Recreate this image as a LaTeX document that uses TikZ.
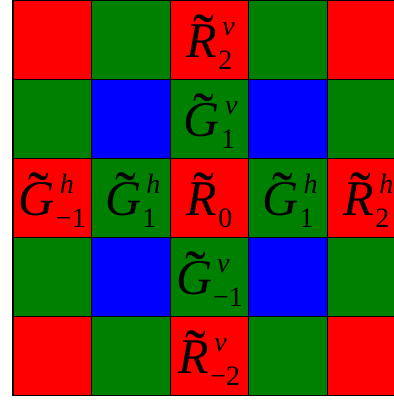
\documentclass[tikz,border=0pt]{standalone}
\usepackage{fontspec}
\setmainfont{Liberation Serif}
\definecolor{cr}{RGB}{255,0,0}
\definecolor{cg}{RGB}{0,128,0}
\definecolor{cb}{RGB}{0,0,255}
\newcommand{\scr}{\fontsize{28}{28}\selectfont}
% letter, superscript, subscript
\newcommand{\LBL}[3]{%
  \setbox0\hbox{\textit{#1}}%
  \rlap{\hbox to \wd0{\hss\kern4pt\raisebox{1pt}{\fontsize{62}{62}\selectfont\char"02DC}\hss}}%
  \box0\kern1pt
  \rlap{\raisebox{22pt}{\scr\kern4pt\textit{#2}}}%
  \raisebox{-12pt}{\scr #3}}
\tikzset{
  cellbox/.style={draw=black, line width=1.1pt},
  lbl/.style={inner sep=0pt, anchor=base, font=\fontsize{50}{54}\selectfont}
}
\begin{document}
\begin{tikzpicture}[x=1pt,y=-1pt]
\useasboundingbox (0,0) rectangle (394,400);
\fill[white] (0,0) rectangle (394,400);
\begin{scope}
\clip (0,0) rectangle (394,400);
\foreach \r in {0,...,4} {
  \foreach \c in {0,...,4} {
    \pgfmathtruncatemacro\k{mod(\r,2)+mod(\c,2)}
    \ifcase\k \def\cc{cr}\or\def\cc{cg}\or\def\cc{cb}\fi
    \filldraw[fill=\cc, cellbox] ({13+78.6*\c},{0.6+78.9*\r}) rectangle ++(78.6,78.9);
  }
}
\end{scope}
\node[lbl] (r2v)  at ({13+78.6*2.5},{0.6+78.9*0+57}) {\LBL{R}{v}{2}};
\node[lbl] (g1v)  at ({13+78.6*2.5},{0.6+78.9*1+57}) {\LBL{G}{v}{1}};
\node[lbl] (gm1h) at ({13+78.6*0.5},{0.6+78.9*2+57}) {\LBL{G}{h}{−1}};
\node[lbl] (g1hl) at ({13+78.6*1.5},{0.6+78.9*2+57}) {\LBL{G}{h}{1}};
\node[lbl] (r0)   at ({13+78.6*2.5},{0.6+78.9*2+57}) {\LBL{R}{}{0}};
\node[lbl] (g1hr) at ({13+78.6*3.5},{0.6+78.9*2+57}) {\LBL{G}{h}{1}};
\node[lbl] (r2h)  at ({13+78.6*4.5},{0.6+78.9*2+57}) {\LBL{R}{h}{2}};
\node[lbl] (gm1v) at ({13+78.6*2.5},{0.6+78.9*3+57}) {\LBL{G}{v}{−1}};
\node[lbl] (rm2v) at ({13+78.6*2.5},{0.6+78.9*4+57}) {\LBL{R}{v}{−2}};
\end{tikzpicture}
\end{document}
